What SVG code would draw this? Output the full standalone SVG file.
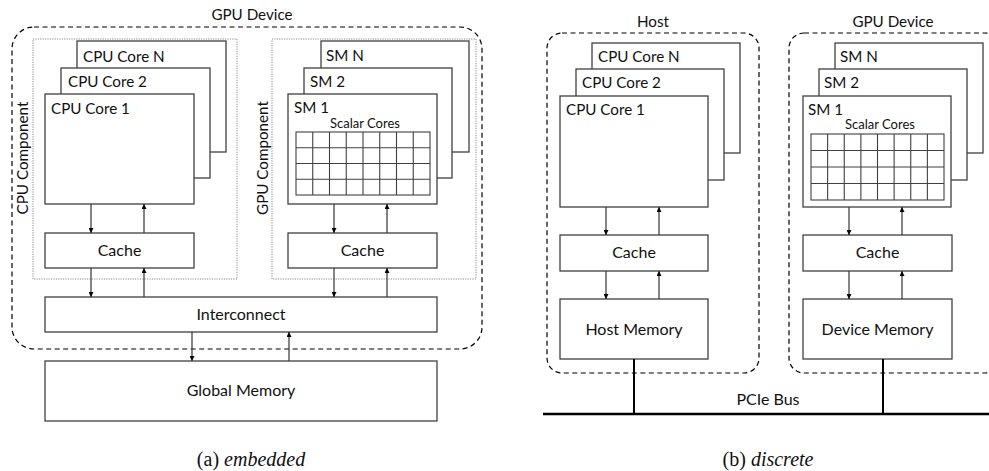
<svg xmlns="http://www.w3.org/2000/svg" width="989" height="471" viewBox="0 0 989 471">
<style>
.bx{fill:#fff;stroke:#404040;stroke-width:1.3}
.dash{fill:none;stroke:#000;stroke-width:1.2;stroke-dasharray:5,3.5}
.dot{fill:none;stroke:#8a8a8a;stroke-width:1;stroke-dasharray:1.2,1.2}
.grid{fill:none;stroke:#404040;stroke-width:1.1}
.t{font-family:Lato,"Open Sans","DejaVu Sans",sans-serif;font-size:15.2px;fill:#111}
.tc{font-family:Lato,"Open Sans","DejaVu Sans",sans-serif;font-size:15.2px;fill:#111;text-anchor:middle}
.tb{font-family:Lato,"Open Sans","DejaVu Sans",sans-serif;font-size:16px;fill:#111;text-anchor:middle}
.ts{font-family:Lato,"Open Sans","DejaVu Sans",sans-serif;font-size:13px;fill:#111;text-anchor:middle}
.cap{font-family:"Liberation Serif","Times New Roman",serif;font-size:20px;fill:#111;text-anchor:middle}
.ar{fill:none;stroke:#333;stroke-width:1.2;marker-end:url(#ah)}
.bus{fill:none;stroke:#000;stroke-width:2.4}
</style>
<defs>
<marker id="ah" viewBox="0 0 8 8" markerWidth="5" markerHeight="5" refX="8" refY="4" orient="auto" markerUnits="userSpaceOnUse">
<path d="M0,0 L8,4 L0,8 z" fill="#000"/>
</marker>
</defs>

<!-- (a) embedded -->
<g id="a-gpu-device">
<rect class="dash" x="12" y="27" width="470" height="322" rx="22" ry="22"/>
<text class="tc" x="252" y="20">GPU Device</text>
</g>
<g id="a-cpu-component">
<rect class="dot" x="33" y="39" width="204" height="240"/>
<text class="tc" transform="translate(28,158) rotate(-90)">CPU Component</text>
</g>
<g id="a-gpu-component">
<rect class="dot" x="272" y="39" width="204" height="240"/>
<text class="tc" transform="translate(268,158) rotate(-90)">GPU Component</text>
</g>
<g id="a-cpu-core-n"><rect class="bx" x="77" y="41" width="149" height="111"/><text class="t" x="83" y="62">CPU Core N</text></g>
<g id="a-cpu-core-2"><rect class="bx" x="61" y="68" width="149" height="110"/><text class="t" x="68" y="87">CPU Core 2</text></g>
<g id="a-cpu-core-1"><rect class="bx" x="45" y="94" width="149" height="110"/><text class="t" x="51" y="114">CPU Core 1</text></g>
<g id="a-cpu-cache"><rect class="bx" x="45" y="233" width="149" height="35"/><text class="tb" x="119.5" y="256">Cache</text></g>
<g id="a-sm-n"><rect class="bx" x="321" y="41" width="148" height="111"/><text class="t" x="326" y="61">SM N</text></g>
<g id="a-sm-2"><rect class="bx" x="304" y="68" width="148" height="110"/><text class="t" x="310" y="87">SM 2</text></g>
<g id="a-sm-1"><rect class="bx" x="288" y="94" width="149" height="110"/><text class="t" x="294" y="113">SM 1</text>
<text class="ts" x="365" y="128">Scalar Cores</text>
<rect class="grid" x="296" y="132" width="134" height="63"/>
<path class="grid" d="M312.75,132V195M329.5,132V195M346.25,132V195M363,132V195M379.75,132V195M396.5,132V195M413.25,132V195M296,147.75H430M296,163.5H430M296,179.25H430"/>
</g>
<g id="a-gpu-cache"><rect class="bx" x="288" y="233" width="149" height="35"/><text class="tb" x="362.5" y="256">Cache</text></g>
<g id="a-interconnect"><rect class="bx" x="45" y="297" width="392" height="35"/><text class="tb" x="241" y="320">Interconnect</text></g>
<g id="a-global-memory"><rect class="bx" x="45" y="361" width="392" height="60"/><text class="tb" x="241" y="396">Global Memory</text></g>

<!-- (b) discrete -->
<g id="b-host">
<rect class="dash" x="547" y="33" width="212" height="340" rx="15" ry="15"/>
<text class="tc" x="653" y="27">Host</text>
</g>
<g id="b-gpu-device">
<rect class="dash" x="789" y="33" width="211" height="340" rx="15" ry="15"/>
<text class="tc" x="893" y="27">GPU Device</text>
</g>
<g id="b-cpu-core-n"><rect class="bx" x="592" y="43" width="148" height="110"/><text class="t" x="598" y="62">CPU Core N</text></g>
<g id="b-cpu-core-2"><rect class="bx" x="576" y="69" width="148" height="111"/><text class="t" x="582" y="88">CPU Core 2</text></g>
<g id="b-cpu-core-1"><rect class="bx" x="560" y="96" width="148" height="111"/><text class="t" x="566" y="115">CPU Core 1</text></g>
<g id="b-host-cache"><rect class="bx" x="560" y="235" width="148" height="36"/><text class="tb" x="634" y="258">Cache</text></g>
<g id="b-host-memory"><rect class="bx" x="560" y="299" width="148" height="60"/><text class="tb" x="634" y="335">Host Memory</text></g>
<g id="b-sm-n"><rect class="bx" x="835" y="43" width="148" height="110"/><text class="t" x="840" y="62">SM N</text></g>
<g id="b-sm-2"><rect class="bx" x="819" y="69" width="148" height="111"/><text class="t" x="824" y="88">SM 2</text></g>
<g id="b-sm-1"><rect class="bx" x="803" y="96" width="148" height="111"/><text class="t" x="808" y="115">SM 1</text>
<text class="ts" x="880" y="129">Scalar Cores</text>
<rect class="grid" x="811" y="134" width="133" height="66"/>
<path class="grid" d="M827.625,134V200M844.25,134V200M860.875,134V200M877.5,134V200M894.125,134V200M910.75,134V200M927.375,134V200M811,150.5H944M811,167H944M811,183.5H944"/>
</g>
<g id="b-device-cache"><rect class="bx" x="803" y="235" width="149" height="36"/><text class="tb" x="877.5" y="258">Cache</text></g>
<g id="b-device-memory"><rect class="bx" x="803" y="299" width="149" height="60"/><text class="tb" x="877.5" y="335">Device Memory</text></g>
<g id="b-pcie-bus">
<text class="tb" x="768" y="405">PCIe Bus</text>
</g>

<g id="connectors">
<path class="ar" d="M91,204V233"/>
<path class="ar" d="M144,233V204"/>
<path class="ar" d="M91,268V297"/>
<path class="ar" d="M144,297V268"/>
<path class="ar" d="M334,204V233"/>
<path class="ar" d="M387,233V204"/>
<path class="ar" d="M334,268V297"/>
<path class="ar" d="M387,297V268"/>
<path class="ar" d="M192,332V361"/>
<path class="ar" d="M289,361V332"/>
<path class="ar" d="M606,207V235"/>
<path class="ar" d="M659,235V207"/>
<path class="ar" d="M606,271V299"/>
<path class="ar" d="M659,299V271"/>
<path class="ar" d="M849,207V235"/>
<path class="ar" d="M902,235V207"/>
<path class="ar" d="M849,271V299"/>
<path class="ar" d="M902,299V271"/>
<path class="bus" d="M543,414H989"/>
<path class="bus" d="M634,359V414M883,359V414" style="stroke-width:2"/>
</g>

<text class="cap" x="251" y="466">(a) <tspan font-style="italic">embedded</tspan></text>
<text class="cap" x="768" y="466">(b) <tspan font-style="italic">discrete</tspan></text>
</svg>
